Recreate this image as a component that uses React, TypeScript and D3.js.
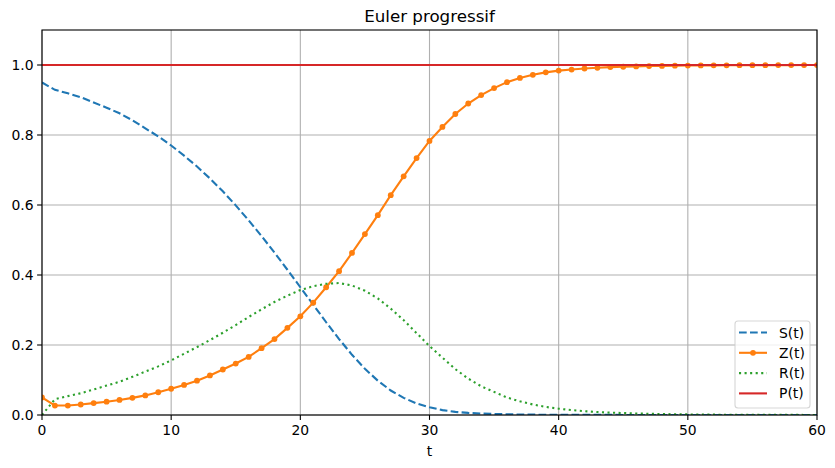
import React from 'react';
import * as d3 from 'd3';

// time steps (Euler, dt = 1)
const T_VALUES: number[] = d3.range(0, 61);

const S_VALUES = [
  0.950, 0.929, 0.919, 0.908, 0.893, 0.878, 0.862, 0.842, 0.819, 0.796,
  0.770, 0.741, 0.710, 0.676, 0.639, 0.599, 0.556, 0.511, 0.464, 0.415,
  0.365, 0.315, 0.265, 0.217, 0.172, 0.132, 0.098, 0.070, 0.049, 0.033,
  0.022, 0.014, 0.009, 0.006, 0.004, 0.003, 0.002, 0.0015, 0.001, 0.0008,
  0.0006, 0.0005, 0.0004, 0.0003, 0.0003, 0.0002, 0.0002, 0.0002, 0.0001, 0.0001,
  0.0001, 0.0001, 0.0001, 0.0001, 0.0001, 0.0, 0.0, 0.0, 0.0, 0.0, 0.0,
];

const Z_VALUES = [
  0.050, 0.027, 0.027, 0.030, 0.034, 0.038, 0.043, 0.049, 0.056, 0.065,
  0.075, 0.086, 0.098, 0.113, 0.130, 0.147, 0.166, 0.191, 0.217, 0.249,
  0.282, 0.321, 0.365, 0.411, 0.463, 0.517, 0.571, 0.628, 0.682, 0.734,
  0.783, 0.823, 0.860, 0.890, 0.914, 0.934, 0.951, 0.963, 0.972, 0.979,
  0.984, 0.987, 0.990, 0.992, 0.994, 0.995, 0.996, 0.997, 0.9975, 0.998,
  0.9985, 0.9988, 0.999, 0.9992, 0.9994, 0.9995, 0.9996, 0.9997, 0.9997, 0.9998, 0.9998,
];

const R_VALUES = [
  0.000, 0.045, 0.054, 0.062, 0.073, 0.084, 0.095, 0.109, 0.124, 0.139,
  0.156, 0.175, 0.194, 0.214, 0.235, 0.257, 0.280, 0.302, 0.323, 0.341,
  0.357, 0.368, 0.375, 0.377, 0.370, 0.355, 0.333, 0.304, 0.271, 0.234,
  0.197, 0.164, 0.131, 0.104, 0.082, 0.066, 0.050, 0.039, 0.030, 0.023,
  0.018, 0.014, 0.011, 0.0085, 0.0067, 0.0055, 0.0043, 0.0034, 0.0027, 0.0021,
  0.0017, 0.0013, 0.0010, 0.0008, 0.0006, 0.0005, 0.0004, 0.0003, 0.0003, 0.0002, 0.0002,
];

const P_VALUES = [
  1, 1, 1, 1, 1, 1, 1, 1, 1, 1, 1, 1, 1, 1, 1, 1, 1, 1, 1, 1,
  1, 1, 1, 1, 1, 1, 1, 1, 1, 1, 1, 1, 1, 1, 1, 1, 1, 1, 1, 1,
  1, 1, 1, 1, 1, 1, 1, 1, 1, 1, 1, 1, 1, 1, 1, 1, 1, 1, 1, 1, 1,
];

const X_TICKS = [0, 10, 20, 30, 40, 50, 60];
const Y_TICKS = [0.0, 0.2, 0.4, 0.6, 0.8, 1.0];

const WIDTH = 835;
const HEIGHT = 468;
const margin = { left: 42, right: 18, top: 30, bottom: 53 };
const FONT = 'DejaVu Sans, sans-serif';

export default function App() {
  const x = d3.scaleLinear().domain([0, 60]).range([margin.left, WIDTH - margin.right]);
  const y = d3.scaleLinear().domain([0, 1.1]).range([HEIGHT - margin.bottom, margin.top]);

  const line = (vals: number[]) =>
    d3.line<number>()
      .x((_, i) => x(T_VALUES[i]))
      .y(d => y(d))(vals) || '';

  // matplotlib '--' and ':' patterns, scaled by linewidth (px)
  const series = [
    { name: 'S(t)', vals: S_VALUES, color: '#1f77b4', dash: '7.7,3.3', marker: false },
    { name: 'Z(t)', vals: Z_VALUES, color: '#ff7f0e', dash: undefined, marker: true },
    { name: 'R(t)', vals: R_VALUES, color: '#2ca02c', dash: '2.1,3.45', marker: false },
    { name: 'P(t)', vals: P_VALUES, color: '#d62728', dash: undefined, marker: false },
  ];

  const [x0, x1] = x.range();
  const [yb, yt] = y.range();

  // legend box
  const lgX = 735, lgY = 321, lgW = 75, lgH = 87;

  return (
    <svg width={WIDTH} height={HEIGHT} style={{ position: 'absolute', left: 0, top: 0, background: '#fff' }}
      fontFamily={FONT}>
      <defs>
        <clipPath id="plot">
          <rect x={x0} y={yt} width={x1 - x0} height={yb - yt} />
        </clipPath>
      </defs>

      {/* grid */}
      {X_TICKS.map(t => (
        <line key={'gx' + t} x1={x(t)} x2={x(t)} y1={yb} y2={yt} stroke="#b0b0b0" strokeWidth={1.1} />
      ))}
      {Y_TICKS.map(t => (
        <line key={'gy' + t} x1={x0} x2={x1} y1={y(t)} y2={y(t)} stroke="#b0b0b0" strokeWidth={1.1} />
      ))}

      {/* curves */}
      <g clipPath="url(#plot)">
        {series.map(s => (
          <g key={s.name}>
            <path d={line(s.vals)} fill="none" stroke={s.color} strokeWidth={2.1} strokeDasharray={s.dash} />
            {s.marker && s.vals.map((v, i) => (
              <circle key={i} cx={x(T_VALUES[i])} cy={y(v)} r={2.9} fill={s.color} />
            ))}
          </g>
        ))}
      </g>

      {/* spines */}
      <rect x={x0} y={yt} width={x1 - x0} height={yb - yt} fill="none" stroke="#000" strokeWidth={1.1} />

      {/* x ticks */}
      {X_TICKS.map(t => (
        <g key={'xt' + t}>
          <line x1={x(t)} x2={x(t)} y1={yb} y2={yb + 4.9} stroke="#000" strokeWidth={1.1} />
          <text x={x(t)} y={yb + 20} textAnchor="middle" fontSize={13.9} fill="#000">{t}</text>
        </g>
      ))}
      {/* y ticks */}
      {Y_TICKS.map(t => (
        <g key={'yt' + t}>
          <line x1={x0 - 4.9} x2={x0} y1={y(t)} y2={y(t)} stroke="#000" strokeWidth={1.1} />
          <text x={x0 - 8.5} y={y(t)} dy="0.36em" textAnchor="end" fontSize={13.9} fill="#000">
            {t.toFixed(1)}
          </text>
        </g>
      ))}

      <text x={(x0 + x1) / 2} y={456} textAnchor="middle" fontSize={13.9} fill="#000">t</text>
      <text x={(x0 + x1) / 2} y={22} textAnchor="middle" fontSize={16.7} fill="#000">Euler progressif</text>

      {/* legend */}
      <rect x={lgX} y={lgY} width={lgW} height={lgH} rx={3} fill="#fff" fillOpacity={0.8}
        stroke="#cccccc" strokeOpacity={0.8} strokeWidth={1.1} />
      {series.map((s, i) => {
        const ly = 332.5 + i * 20.3;
        return (
          <g key={'lg' + s.name}>
            <line x1={739} x2={767} y1={ly} y2={ly} stroke={s.color} strokeWidth={2.1} strokeDasharray={s.dash} />
            {s.marker && <circle cx={753} cy={ly} r={2.9} fill={s.color} />}
            <text x={779} y={ly} dy="0.36em" fontSize={13.9} fill="#000">{s.name}</text>
          </g>
        );
      })}
    </svg>
  );
}
